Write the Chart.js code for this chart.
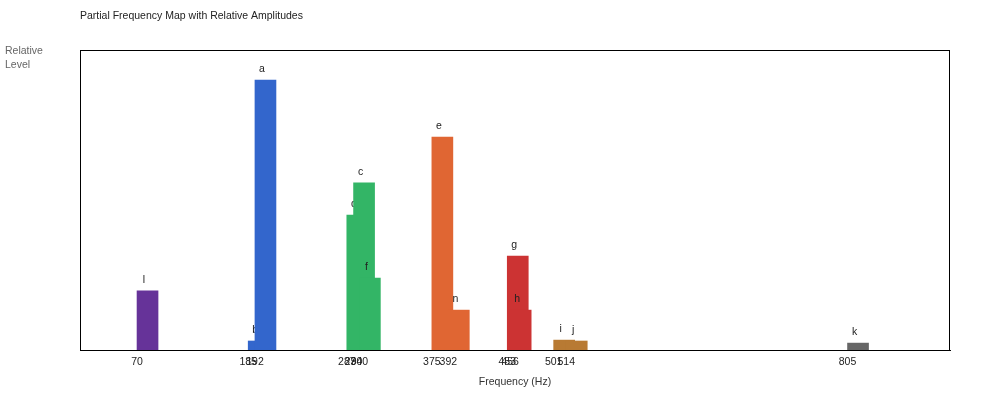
<!DOCTYPE html>
<html><head><meta charset="utf-8">
<script src="https://cdn.jsdelivr.net/npm/chart.js@4"></script>
<style>html,body{margin:0;padding:0;background:#fff}canvas{display:block}</style>
</head><body>
<canvas id="c" width="1000" height="400"></canvas>
<script>
const TITLE = 'Partial Frequency Map with Relative Amplitudes';
const Y_LABEL = ['Relative', 'Level'];
const X_LABEL = 'Frequency (Hz)';
const partialLabels = ['a', 'b', 'c', 'd', 'e', 'f', 'g', 'h', 'i', 'j', 'k', 'l', 'n'];
const partialFreqs  = [192, 185, 294, 287, 375, 300, 453, 456, 501, 514, 805, 70, 392];
const partialLevels = [0.90, 0.03, 0.557, 0.45, 0.71, 0.24, 0.313, 0.133, 0.033, 0.03, 0.023, 0.197, 0.133];
const partialGroups = ['blue', 'blue', 'green', 'green', 'orange', 'green', 'red', 'red', 'brown', 'brown', 'gray', 'purple', 'orange'];

const groupColors = {purple:'#663399', blue:'#3366cc', green:'#33b566', orange:'#e06633', red:'#cc3333', brown:'#b87a33', gray:'#666666'};
const FONT = '"Liberation Sans", Arial, sans-serif';
const FS = 10.5;
const X_MIN = 11, X_MAX = 911;
const PAD = {left: 80, right: 50, top: 50};
const BAR_PX = 21;
const pxPerHz = (1000 - PAD.left - PAD.right) / (X_MAX - X_MIN);
const halfHz = BAR_PX / 2 / pxPerHz;

const order = partialFreqs.map((f, i) => i).sort((p, q) => partialFreqs[p] - partialFreqs[q]);
const datasets = order.map((i, k) => ({
  label: partialLabels[i],
  freq: partialFreqs[i],
  data: [{x: partialFreqs[i] + halfHz, y: partialLevels[i]}],
  backgroundColor: groupColors[partialGroups[i]],
  borderWidth: 0,
  barThickness: BAR_PX,
  grouped: false,
  order: order.length - k
}));
const tickValues = [...new Set(partialFreqs)].sort((a, b) => a - b);

const decor = {
  id: 'decor',
  afterDatasetDraw(chart, args) {
    const ds = chart.data.datasets[args.index];
    const el = args.meta.data[0];
    const ctx = chart.ctx;
    ctx.save();
    ctx.font = FS + 'px ' + FONT;
    ctx.fillStyle = '#222';
    ctx.textAlign = 'center';
    ctx.textBaseline = 'alphabetic';
    ctx.fillText(ds.label, chart.scales.x.getPixelForValue(ds.freq) + 7, el.y - 8);
    ctx.restore();
  },
  afterDraw(chart) {
    const ctx = chart.ctx, a = chart.chartArea;
    ctx.save();
    ctx.strokeStyle = '#000';
    ctx.lineWidth = 1;
    ctx.strokeRect(Math.round(a.left) + 0.5, Math.round(a.top) + 0.5, Math.round(a.right - a.left) - 1, Math.round(a.bottom - a.top));
    ctx.font = FS + 'px ' + FONT;
    ctx.textAlign = 'left';
    ctx.textBaseline = 'middle';
    ctx.fillStyle = '#222';
    ctx.fillText(TITLE, 80, 16);
    ctx.fillStyle = '#666';
    Y_LABEL.forEach((t, i) => ctx.fillText(t, 5, 51 + i * 14));
    ctx.restore();
  }
};

new Chart(document.getElementById('c'), {
  type: 'bar',
  data: {datasets},
  plugins: [decor],
  options: {
    responsive: false,
    animation: false,
    devicePixelRatio: 1,
    layout: {padding: {left: PAD.left, right: PAD.right, top: PAD.top, bottom: 0}},
    plugins: {legend: {display: false}, title: {display: false}, tooltip: {enabled: false}},
    scales: {
      x: {
        type: 'linear', min: X_MIN, max: X_MAX, offset: false,
        grid: {display: false, drawTicks: false},
        border: {display: true, color: '#000', width: 1},
        afterBuildTicks: s => { s.ticks = tickValues.map(v => ({value: v})); },
        afterFit: s => { s.height = 50; },
        ticks: {autoSkip: false, maxRotation: 0, padding: 6, color: '#222', font: {family: FONT, size: FS}, callback: v => String(v)},
        title: {display: true, text: X_LABEL, color: '#333', font: {family: FONT, size: FS}, padding: {top: 4, bottom: 12}}
      },
      y: {display: false, min: 0, max: 1}
    }
  }
});
</script>
</body></html>
